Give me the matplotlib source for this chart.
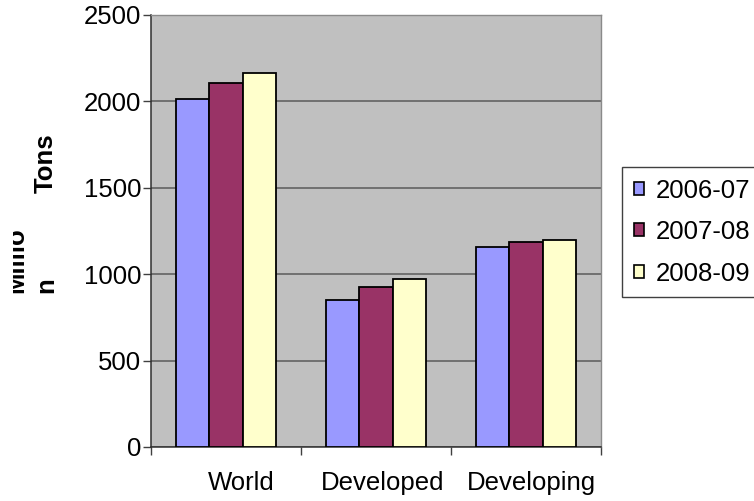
import numpy as np
import matplotlib
matplotlib.use("Agg")
import matplotlib.pyplot as plt
import matplotlib.transforms as mtransforms
from matplotlib.patches import Patch

plt.rcParams['font.family'] = ['Liberation Sans', 'DejaVu Sans']

regions = ["World", "Developed", "Developing"]
seasons = ["2006-07", "2007-08", "2008-09"]
output_0607 = [2011, 853, 1158]
output_0708 = [2108, 927, 1184]
output_0809 = [2166, 973, 1197]
series = [output_0607, output_0708, output_0809]
colors = ["#9999FF", "#993366", "#FFFFCC"]

W, H = 754, 501
fig = plt.figure(figsize=(W / 100, H / 100), dpi=100)
ax = fig.add_axes([151 / W, 1 - 447 / H, 450 / W, 432 / H])
ax.set_facecolor("#C0C0C0")

fs = 18.5
x = np.arange(len(regions))
bw = 0.2233
for i, (vals, col) in enumerate(zip(series, colors)):
    ax.bar(x + (i - 1) * bw, vals, bw, color=col, edgecolor="black",
           linewidth=1.3, zorder=3, label=seasons[i])

ax.set_xlim(-0.5, 2.5)
ax.set_ylim(0, 2500)
ax.set_yticks(np.arange(0, 2501, 500))
ax.yaxis.grid(True, color="#6a6a6a", linewidth=1.3, zorder=1)
ax.set_axisbelow(True)
ax.tick_params(axis="y", direction="out", length=6, width=1, color="#404040",
               pad=1, labelsize=fs)

# category boundaries get the tick marks, centres get the names
ax.set_xticks([-0.5, 0.5, 1.5, 2.5])
ax.set_xticklabels([])
ax.set_xticks(x, minor=True)
ax.set_xticklabels(regions, minor=True)
ax.tick_params(axis="x", which="major", direction="out", length=6, width=1,
               color="#404040")
ax.tick_params(axis="x", which="minor", length=0, pad=17, labelsize=fs)
for lbl, dx in zip(ax.get_xticklabels(minor=True), [15, 7, 5]):
    lbl.set_transform(lbl.get_transform() +
                      mtransforms.ScaledTranslation(dx / 100, 0, fig.dpi_scale_trans))

for side in ["left", "bottom"]:
    ax.spines[side].set_color("#303030")
    ax.spines[side].set_linewidth(1.1)
for side in ["top", "right"]:
    ax.spines[side].set_color("#8a8a8a")
    ax.spines[side].set_linewidth(1.0)

handles = [Patch(facecolor=c, edgecolor="black", linewidth=1.2) for c in colors]
leg = fig.legend(handles, seasons, loc="upper left",
                 bbox_to_anchor=(622 / W, 1 - 167 / H), borderaxespad=0,
                 fontsize=fs, handlelength=0.4, handleheight=0.4,
                 handletextpad=0.45, borderpad=0.45, labelspacing=0.68,
                 fancybox=False, framealpha=1)
leg.get_frame().set_edgecolor("#404040")
leg.get_frame().set_linewidth(1.0)

# wrapped axis title, the first line runs off the left edge
clip = mtransforms.Bbox.from_extents(13, 0, W, H)
t1 = fig.text(23 / W, 1 - 260 / H, "Millio", rotation=90, rotation_mode="anchor",
              ha="center", va="baseline", fontsize=fs, fontweight="bold")
t1.set_clip_box(clip)
t1.set_clip_on(True)
fig.text(53 / W, 1 - 285 / H, "n", rotation=90, rotation_mode="anchor",
         ha="center", va="baseline", fontsize=fs, fontweight="bold")
fig.text(53 / W, 1 - 163 / H, "Tons", rotation=90, rotation_mode="anchor",
         ha="center", va="baseline", fontsize=fs, fontweight="bold")

fig.savefig("out.png", dpi=100)
